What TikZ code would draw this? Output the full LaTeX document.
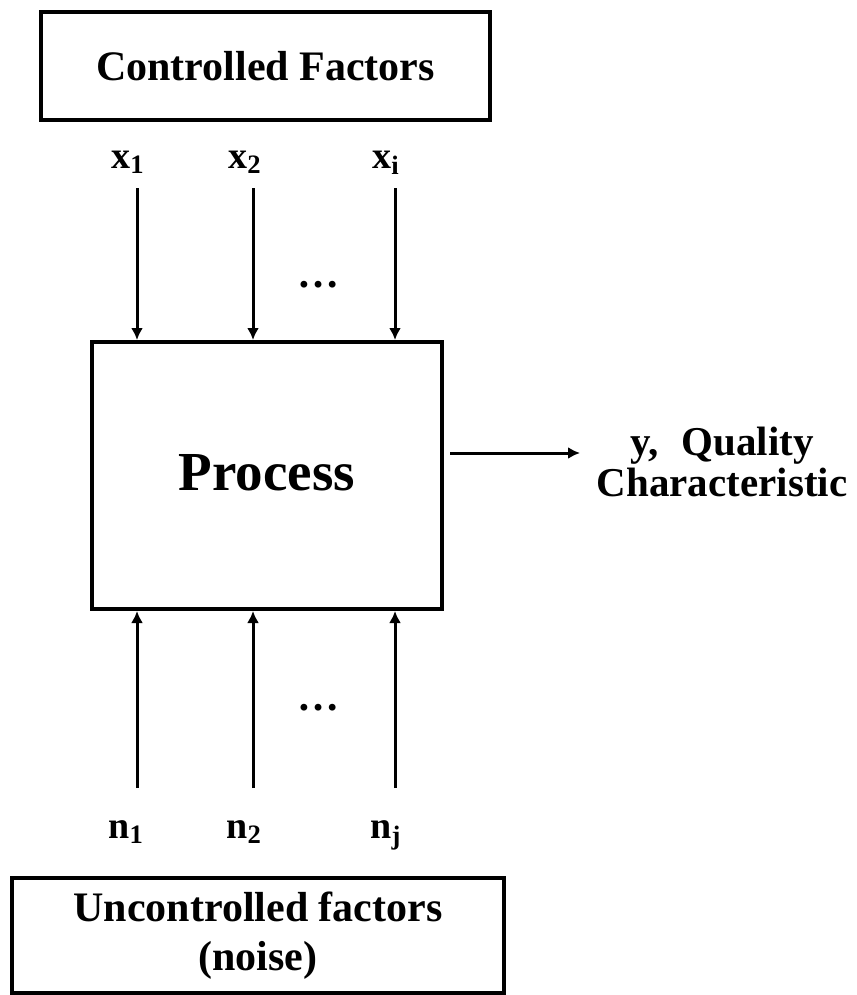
\documentclass[tikz,border=0pt]{standalone}
\usepackage{fontspec}
\setmainfont{Liberation Serif}
\usetikzlibrary{arrows.meta}

\tikzset{
  factorbox/.style={draw, line width=2pt, align=center, font=\fontsize{21}{24.5}\selectfont\bfseries},
  procbox/.style={draw, line width=2pt, font=\fontsize{27.5}{30}\selectfont\bfseries},
  lbl/.style={font=\fontsize{19}{21}\selectfont\bfseries, inner sep=0pt, anchor=base west},
  flow/.style={line width=1.5pt, -{Latex[length=6pt,width=6pt]}}
}

\begin{document}
\begin{tikzpicture}[x=0.5pt,y=-0.5pt]
        \useasboundingbox (0,0) rectangle (856,995);

        % The three boxes
        \node[factorbox, minimum width=224.5pt, minimum height=54pt] (ctrl) at (265.5,66) {Controlled Factors};
        \node[procbox, minimum width=175pt, minimum height=133.5pt] (proc) at (267,475.5) {\raisebox{3pt}{Process}};
        \node[factorbox, minimum width=246pt, minimum height=57.5pt] (noise) at (258,935.5) {Uncontrolled factors\\(noise)};

        % Labels of the controlled inputs
        \node[lbl] (x1) at (111,168) {x\textsubscript{1}};
        \node[lbl] (x2) at (228,168) {x\textsubscript{2}};
        \node[lbl] (xi) at (372,168) {x\textsubscript{i}};

        % Labels of the noise inputs
        \node[lbl] (n1) at (108,838) {n\textsubscript{1}};
        \node[lbl] (n2) at (226,838) {n\textsubscript{2}};
        \node[lbl] (nj) at (370,838) {n\textsubscript{j}};

        % Start points of the arrows
        \coordinate (a1) at (137,188);
        \coordinate (a2) at (253,188);
        \coordinate (a3) at (395,188);
        \coordinate (b1) at (137,788);
        \coordinate (b2) at (253,788);
        \coordinate (b3) at (395,788);

        % Arrows into the process
        \draw[flow] (a1) -- (a1 |- proc.north);
        \draw[flow] (a2) -- (a2 |- proc.north);
        \draw[flow] (a3) -- (a3 |- proc.north);
        \draw[flow] (b1) -- (b1 |- proc.south);
        \draw[flow] (b2) -- (b2 |- proc.south);
        \draw[flow] (b3) -- (b3 |- proc.south);

        % Dots between the arrows
        \node[font=\fontsize{21}{24}\selectfont\bfseries, anchor=base] (dtop) at (318,287) {…};
        \node[font=\fontsize{21}{24}\selectfont\bfseries, anchor=base] (dbot) at (318,710) {…};

        % Output of the process
        \coordinate (out) at (580,453);
        \draw[flow, shorten <=3pt] (proc.east |- out) -- (out);
        \node[align=center, font=\fontsize{20.5}{20.5}\selectfont\bfseries] (qual) at (722,462) {y,\hspace{0.55em}Quality\\Characteristic};
\end{tikzpicture}
\end{document}
